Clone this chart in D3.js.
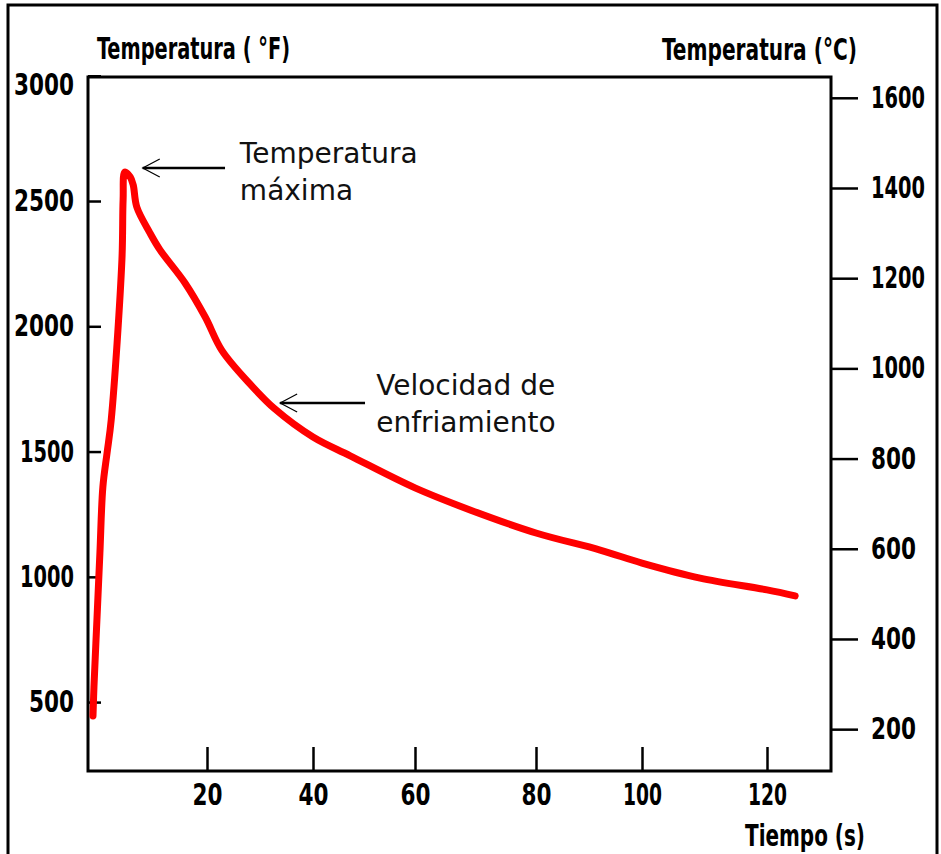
<!DOCTYPE html>
<html>
<head>
<meta charset="utf-8">
<script src="https://cdn.jsdelivr.net/npm/d3@7"></script>
<style>
  body { margin: 0; background: #fff; }
  svg { display: block; }
</style>
</head>
<body>
<svg id="chart" width="941" height="854"></svg>
<script>
// curve: time (s) and temperature (°F)
var tiempo = [0.84, 1.0, 1.5, 2.0, 2.5, 3.2, 3.9, 5.7, 5.9, 6.2, 7.1, 7.6, 8.2, 10.4, 12.1, 16.3, 19.7, 22.8, 28.1, 32.8, 40, 47.3, 60, 69.1, 80, 92.1, 100, 109.3, 120, 124.4];
var tempF = [445, 560, 828, 1095, 1359, 1494, 1626, 2265, 2505, 2616, 2596, 2564, 2476, 2373, 2305, 2173, 2037, 1904, 1770, 1670, 1558, 1483, 1355, 1267, 1175, 1107, 1055, 995, 948, 924];

var ticksX = [20, 40, 60, 80, 100, 120];
var ticksF = [500, 1000, 1500, 2000, 2500, 3000];
var ticksC = [200, 400, 600, 800, 1000, 1200, 1400, 1600];

var titleF = "Temperatura ( °F)";
var titleC = "Temperatura (°C)";
var titleX = "Tiempo (s)";

// annotations in data units: arrow tip, arrow tail, text position
var notas = [
  {lines: ["Temperatura", "máxima"], tip: [9.2, 2632], tail: [23.4, 2632], text: [26.2, 2652]},
  {lines: ["Velocidad de", "enfriamiento"], tip: [33.8, 1694], tail: [50.2, 1694], text: [52.4, 1726]}
];

var svg = d3.select("#chart");
var plotL = 88, plotR = 831, plotT = 77, plotB = 771;

var boldFont = "'Liberation Sans Narrow', 'DejaVu Sans Condensed', 'DejaVu Sans', sans-serif";

// hand drawn axis: tick spacing is not even, so the scale is piecewise
var x = d3.scaleLinear()
  .domain([0, 20, 40, 60, 80, 100, 120, 130])
  .range([plotL, 207, 313, 415, 536, 642, 767, plotR]);

var yF = d3.scaleLinear().domain([225, 2995]).range([plotB, plotT]);
var toC = function(f) { return (f - 32) / 1.8; };
var yC = d3.scaleLinear().domain(yF.domain().map(toC)).range(yF.range());

// outer border of the picture
svg.append("path")
  .attr("d", "M8,860V5H937V860")
  .attr("fill", "none")
  .attr("stroke", "#000")
  .attr("stroke-width", 3);

// digit width of the condensed face, "1" is narrow
var labelLength = function(s) {
  var n = 0;
  for (var i = 0; i < s.length; i++) n += s[i] === "1" ? 9 : 15;
  return n;
};

var styleTicks = function(g) {
  g.select(".domain").remove();
  g.selectAll(".tick line").attr("stroke", "#000").attr("stroke-width", 2.5);
  g.selectAll(".tick text")
    .attr("fill", "#000")
    .style("font-family", boldFont)
    .style("font-weight", "bold")
    .style("font-size", "30px")
    .attr("textLength", function(d) { return labelLength(String(d)); })
    .attr("lengthAdjust", "spacingAndGlyphs");
};

var axisL = svg.append("g")
  .attr("transform", "translate(" + plotL + ",0)")
  .call(d3.axisLeft(yF).tickValues(ticksF).tickSizeInner(-13).tickSizeOuter(0).tickPadding(14).tickFormat(d3.format("d")))
  .call(styleTicks);
axisL.selectAll(".tick text").filter(function(d) { return d === 3000; }).attr("y", 9);

svg.append("g")
  .attr("transform", "translate(" + plotR + ",0)")
  .call(d3.axisRight(yC).tickValues(ticksC).tickSizeInner(27).tickSizeOuter(0).tickPadding(13).tickFormat(d3.format("d")))
  .call(styleTicks);

svg.append("g")
  .attr("transform", "translate(0," + plotB + ")")
  .call(d3.axisBottom(x).tickValues(ticksX).tickSizeInner(-24).tickSizeOuter(0).tickPadding(13).tickFormat(d3.format("d")))
  .call(styleTicks);

// plot frame
svg.append("rect")
  .attr("x", plotL).attr("y", plotT)
  .attr("width", plotR - plotL).attr("height", plotB - plotT)
  .attr("fill", "none")
  .attr("stroke", "#000")
  .attr("stroke-width", 3);

// axis titles
var title = function(txt, px, py, len) {
  svg.append("text")
    .attr("x", px).attr("y", py)
    .text(txt)
    .style("font-family", boldFont)
    .style("font-weight", "bold")
    .style("font-size", "31px")
    .attr("textLength", len)
    .attr("lengthAdjust", "spacingAndGlyphs");
};
title(titleF, 97, 59, 193);
title(titleC, 662, 60, 195);
title(titleX, 745, 846, 120);

// the cooling curve
var pts = tiempo.map(function(t, i) { return [t, tempF[i]]; });
svg.append("path")
  .datum(pts)
  .attr("fill", "none")
  .attr("stroke", "#ff0000")
  .attr("stroke-width", 7)
  .attr("stroke-linejoin", "round")
  .attr("stroke-linecap", "round")
  .attr("d", d3.line()
    .x(function(d) { return x(d[0]); })
    .y(function(d) { return yF(d[1]); })
    .curve(d3.curveCatmullRom.alpha(0.5)));

// arrows and notes
notas.forEach(function(n) {
  var tx = x(n.tip[0]), ty = yF(n.tip[1]);
  svg.append("line")
    .attr("x1", tx).attr("y1", ty)
    .attr("x2", x(n.tail[0])).attr("y2", yF(n.tail[1]))
    .attr("stroke", "#000").attr("stroke-width", 2.5);
  svg.append("path")
    .attr("d", "M" + (tx + 17) + "," + (ty - 9) + "L" + tx + "," + ty + "L" + (tx + 17) + "," + (ty + 9))
    .attr("fill", "none")
    .attr("stroke", "#000")
    .attr("stroke-width", 1.2);
  var t = svg.append("text")
    .attr("x", x(n.text[0]))
    .attr("y", yF(n.text[1]))
    .style("font-family", "'DejaVu Sans', Verdana, sans-serif")
    .style("font-size", "28px")
    .attr("fill", "#111");
  n.lines.forEach(function(l, i) {
    t.append("tspan")
      .attr("x", x(n.text[0]))
      .attr("dy", i === 0 ? 0 : 37)
      .text(l);
  });
});
</script>
</body>
</html>
